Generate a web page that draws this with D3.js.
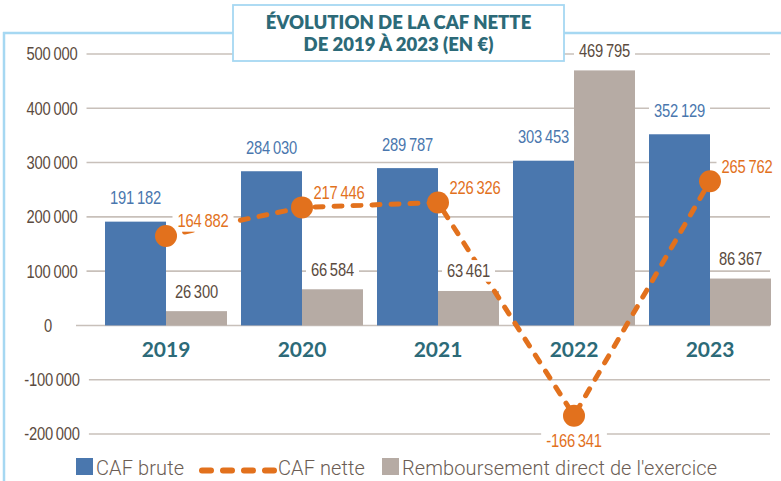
<!DOCTYPE html>
<html>
<head>
<meta charset="utf-8">
<script src="https://cdn.jsdelivr.net/npm/d3@7"></script>
<style>
  body { margin: 0; background: #fff; }
  svg { display: block; }
  .num { font-family: "Liberation Sans", Arial, sans-serif; font-size: 18px; letter-spacing: -0.2px; }
  .year { font-family: Lato, "Open Sans", sans-serif; font-weight: 700; font-size: 21px; fill: #2c6a78; }
  .title { font-family: Lato, "Open Sans", sans-serif; font-weight: 800; font-size: 18.5px; fill: #2c6a78; }
  .legendText { font-family: Roboto, "Liberation Sans", sans-serif; font-weight: 300; font-size: 20px; fill: #6b5d54; letter-spacing: 0.1px; }
</style>
</head>
<body>
<div class="caf_chart"></div>
<script>
const years = ["2019", "2020", "2021", "2022", "2023"]
const cafBrute = [191182, 284030, 289787, 303453, 352129]
const cafNette = [164882, 217446, 226326, -166341, 265762]
const remboursement = [26300, 66584, 63461, 469795, 86367]
const yTicks = [500000, 400000, 300000, 200000, 100000, 0, -100000, -200000]
const legendLabels = ["CAF brute", "CAF nette", "Remboursement direct de l'exercice"]
const titleLines = ["ÉVOLUTION DE LA CAF NETTE", "DE 2019 À 2023 (EN €)"]

function drawCaf() {

    const width = 781
    const height = 481

    const blue = "#4a77ae"
    const grey = "#b6aba4"
    const orange = "#e2711d"
    const brown = "#5b4b40"
    const frame = "#a6d8f2"
    const squeeze = 0.82   // the numbers use a narrow face in the original

    const svg = d3.select(".caf_chart")
        .append("svg")
        .attr("width", width)
        .attr("height", height)

    const x = d3.scaleBand()
        .domain(years)
        .range([98, 778])
        .paddingInner(0.103)
        .paddingOuter(0.0515)

    const xSub = d3.scaleBand()
        .domain(["brute", "remb"])
        .range([0, x.bandwidth()])

    const y = d3.scaleLinear()
        .domain([-200000, 500000])
        .range([434, 54])

    const fmt = v => d3.format(",")(v).replace(/,/g, "\u2009").replace("−", "-")

    // narrow number text, centred on (px, py); returns its box in svg coords
    function narrowText(parent, px, py, txt, color) {
        const g = parent.append("g")
            .attr("transform", `translate(${px},${py})`)
        const t = g.append("g")
            .attr("transform", `scale(${squeeze},1)`)
            .append("text")
            .attr("class", "num")
            .attr("dy", "0.36em")
            .attr("text-anchor", "middle")
            .attr("fill", color)
            .text(txt)
        const bb = t.node().getBBox()
        return { g: g, x: bb.x * squeeze, y: bb.y, width: bb.width * squeeze, height: bb.height, px: px, py: py }
    }

    // frame : top and left lines
    svg.append("line")
        .attr("x1", 3).attr("x2", width)
        .attr("y1", 33).attr("y2", 33)
        .attr("stroke", frame).attr("stroke-width", 2.5)

    svg.append("line")
        .attr("x1", 4).attr("x2", 4)
        .attr("y1", 32).attr("y2", height)
        .attr("stroke", frame).attr("stroke-width", 2.5)

    // grid + y labels
    const grid = svg.append("g")

    yTicks.forEach(t => {
        const lab = narrowText(grid, t == 0 ? 48 : 52, y(t), fmt(t), brown)
        grid.append("line")
            .attr("x1", t == 0 ? 76 : lab.px + lab.x + lab.width + 9)
            .attr("x2", 770)
            .attr("y1", y(t)).attr("y2", y(t))
            .attr("stroke", "#c8c0ba")
            .attr("stroke-width", 1.6)
    })

    // bars
    const bars = svg.append("g")

    bars.selectAll(".bar_brute")
        .data(years)
        .join("rect")
        .attr("class", "bar_brute")
        .attr("x", d => x(d) + xSub("brute"))
        .attr("width", xSub.bandwidth())
        .attr("y", (d, i) => y(cafBrute[i]))
        .attr("height", (d, i) => y(0) - y(cafBrute[i]))
        .attr("fill", blue)

    bars.selectAll(".bar_remb")
        .data(years)
        .join("rect")
        .attr("class", "bar_remb")
        .attr("x", d => x(d) + xSub("remb"))
        .attr("width", xSub.bandwidth())
        .attr("y", (d, i) => y(remboursement[i]))
        .attr("height", (d, i) => y(0) - y(remboursement[i]))
        .attr("fill", grey)

    // CAF nette line
    const cx = d => x(d) + x.bandwidth() / 2

    const line = d3.line()
        .x(d => cx(d))
        .y((d, i) => y(cafNette[i]))

    svg.append("path")
        .datum(years)
        .attr("d", line)
        .attr("fill", "none")
        .attr("stroke", orange)
        .attr("stroke-width", 5)
        .attr("stroke-dasharray", "8 11")
        .attr("stroke-linecap", "round")

    // value labels with white knock-out boxes
    const labels = svg.append("g")

    function addLabel(px, py, txt, color) {
        const lab = narrowText(labels, px, py, txt, color)
        lab.g.insert("rect", "g")
            .attr("x", lab.x - 5)
            .attr("y", lab.y - 1)
            .attr("width", lab.width + 10)
            .attr("height", lab.height + 2)
            .attr("fill", "#fff")
    }

    years.forEach((yr, i) => {
        addLabel(x(yr) + xSub("brute") + xSub.bandwidth() / 2, y(cafBrute[i]) - 24, fmt(cafBrute[i]), blue)
        addLabel(x(yr) + xSub("remb") + xSub.bandwidth() / 2, y(remboursement[i]) - 20, fmt(remboursement[i]), brown)
        if (cafNette[i] < 0) {
            addLabel(cx(yr), y(cafNette[i]) + 25, fmt(cafNette[i]), orange)
        } else {
            addLabel(cx(yr) + 37, y(cafNette[i]) - 15, fmt(cafNette[i]), orange)
        }
    })

    svg.selectAll(".circle_nette")
        .data(years)
        .join("circle")
        .attr("class", "circle_nette")
        .attr("cx", d => cx(d))
        .attr("cy", (d, i) => y(cafNette[i]))
        .attr("r", 11)
        .attr("fill", orange)

    // year labels
    svg.selectAll(".year")
        .data(years)
        .join("text")
        .attr("class", "year")
        .attr("x", d => cx(d))
        .attr("y", 357)
        .attr("text-anchor", "middle")
        .text(d => d)

    // title box
    svg.append("rect")
        .attr("x", 233)
        .attr("y", 5)
        .attr("width", 331)
        .attr("height", 56)
        .attr("fill", "#fff")
        .attr("stroke", frame)
        .attr("stroke-width", 1.8)

    svg.selectAll(".title")
        .data(titleLines)
        .join("text")
        .attr("class", "title")
        .attr("x", 398.5)
        .attr("y", (d, i) => 29 + i * 22.4)
        .attr("text-anchor", "middle")
        .text(d => d)

    // legend
    const legendGroup = svg.append("g")
        .attr("class", "legendGroup")

    legendGroup.append("rect")
        .attr("x", 76).attr("y", 458)
        .attr("width", 17).attr("height", 17)
        .attr("fill", blue)

    legendGroup.append("text")
        .attr("class", "legendText")
        .attr("x", 96).attr("y", 474.5)
        .text(legendLabels[0])

    legendGroup.append("line")
        .attr("x1", 202).attr("x2", 275)
        .attr("y1", 470.5).attr("y2", 470.5)
        .attr("stroke", orange)
        .attr("stroke-width", 6)
        .attr("stroke-dasharray", "9 12")
        .attr("stroke-linecap", "round")

    legendGroup.append("text")
        .attr("class", "legendText")
        .attr("x", 278).attr("y", 474.5)
        .text(legendLabels[1])

    legendGroup.append("rect")
        .attr("x", 382).attr("y", 458)
        .attr("width", 17).attr("height", 17)
        .attr("fill", grey)

    legendGroup.append("text")
        .attr("class", "legendText")
        .attr("x", 402).attr("y", 474.5)
        .text(legendLabels[2])
}

drawCaf()
</script>
</body>
</html>
